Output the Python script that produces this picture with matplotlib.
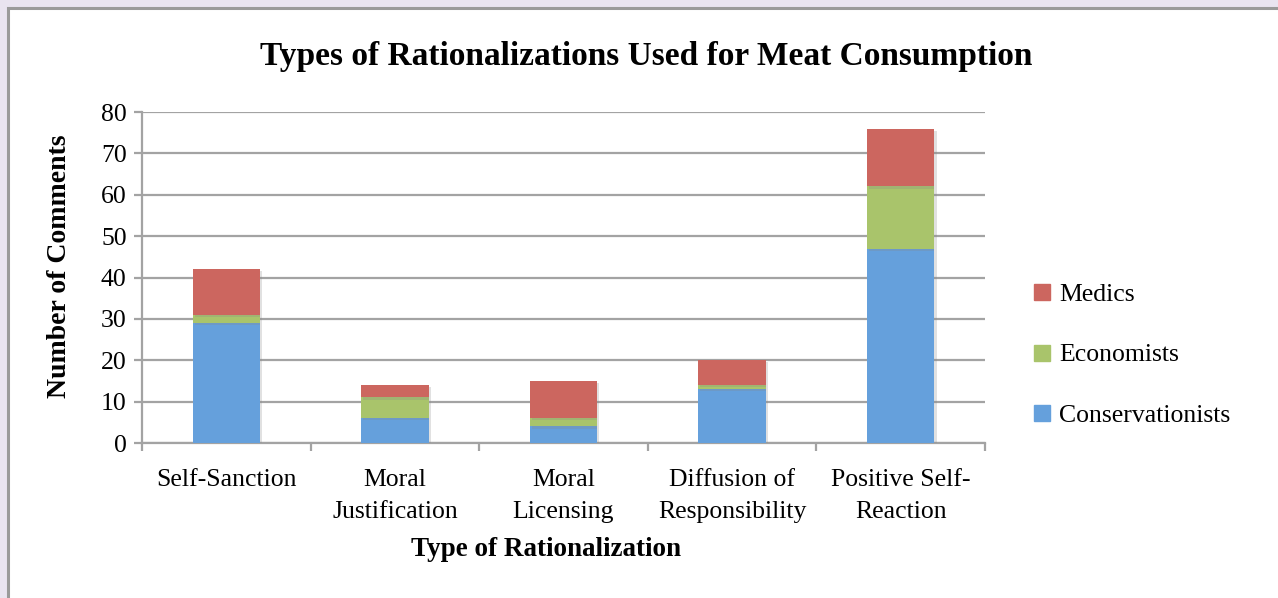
import matplotlib
matplotlib.use("Agg")
import matplotlib.pyplot as plt
import matplotlib.patheffects as pe
from matplotlib.patches import Rectangle
from matplotlib.lines import Line2D
import numpy as np

categories = ["Self-Sanction", "Moral\nJustification", "Moral\nLicensing",
              "Diffusion of\nResponsibility", "Positive Self-\nReaction"]
conservationists = [29, 6, 4, 13, 47]
economists = [2, 5, 2, 1, 15]
medics = [11, 3, 9, 6, 14]

series = [("Conservationists", conservationists, "#65a0dc"),
          ("Economists", economists, "#a9c46b"),
          ("Medics", medics, "#cc665f")]

plt.rcParams["font.family"] = ["Liberation Serif", "DejaVu Serif"]

W, H = 1278, 598
fig = plt.figure(figsize=(W / 100, H / 100), dpi=100)
fig.patch.set_facecolor("#e9e4f0")

# white card with grey frame
fig.patches.append(Rectangle((8, -20), W + 20, H - 8 + 20, transform=None,
                             facecolor="white", edgecolor="#9a9a9a", linewidth=2.2,
                             zorder=-10))

x0, x1, ytop, ybot = 142, 985, 112, 443
ax = fig.add_axes([x0 / W, (H - ybot) / H, (x1 - x0) / W, (ybot - ytop) / H])
ax.set_facecolor("none")

x = np.arange(len(categories))
bottom = np.zeros(len(categories))
shadow = [pe.SimplePatchShadow(offset=(1.5, -1.5), shadow_rgbFace="#888888", alpha=0.25),
          pe.Normal()]
for name, vals, color in series:
    bars = ax.bar(x, vals, width=0.4, bottom=bottom, color=color, label=name, zorder=3)
    for b in bars:
        b.set_path_effects(shadow)
    bottom += np.array(vals)

ax.set_xlim(-0.5, len(categories) - 0.5)
ax.set_ylim(0, 80)
ax.set_yticks(range(0, 81, 10))
ax.yaxis.grid(True, color="#a3a3a3", linewidth=1.6, zorder=0)
ax.set_axisbelow(True)

for s in ("top", "right"):
    ax.spines[s].set_visible(False)
for s in ("left", "bottom"):
    ax.spines[s].set_color("#a3a3a3")
    ax.spines[s].set_linewidth(1.6)

ax.set_xticks(x)
ax.set_xticklabels(categories, fontsize=18.5, linespacing=1.55, va="top")
ax.set_xticks(np.arange(len(categories) + 1) - 0.5, minor=True)
ax.tick_params(axis="x", which="major", length=0, pad=19)
ax.tick_params(axis="x", which="minor", length=6, width=1.6, color="#a3a3a3")
ax.tick_params(axis="y", length=6, width=1.6, color="#a3a3a3", labelsize=18.5, pad=5)

fig.text(646 / W, 1 - 56 / H, "Types of Rationalizations Used for Meat Consumption",
         ha="center", va="center", fontsize=24, fontweight="bold")
fig.text(546 / W, 1 - 550 / H, "Type of Rationalization",
         ha="center", va="center", fontsize=19.5, fontweight="bold")
fig.text(60 / W, 1 - 266 / H, "Number of Comments", rotation=90,
         ha="center", va="center", fontsize=20, fontweight="bold")

handles = [Line2D([], [], marker="s", linestyle="none", markersize=11,
                  markerfacecolor=c, markeredgecolor=c) for _, _, c in series[::-1]]
labels = [n for n, _, _ in series[::-1]]
fig.legend(handles, labels, loc="center left", bbox_to_anchor=(1019 / W, 1 - 355 / H),
           frameon=False, fontsize=18.5, handlelength=0.8, handletextpad=0.25,
           labelspacing=1.45, borderpad=0)

fig.savefig("out.png", dpi=100, facecolor=fig.get_facecolor())
